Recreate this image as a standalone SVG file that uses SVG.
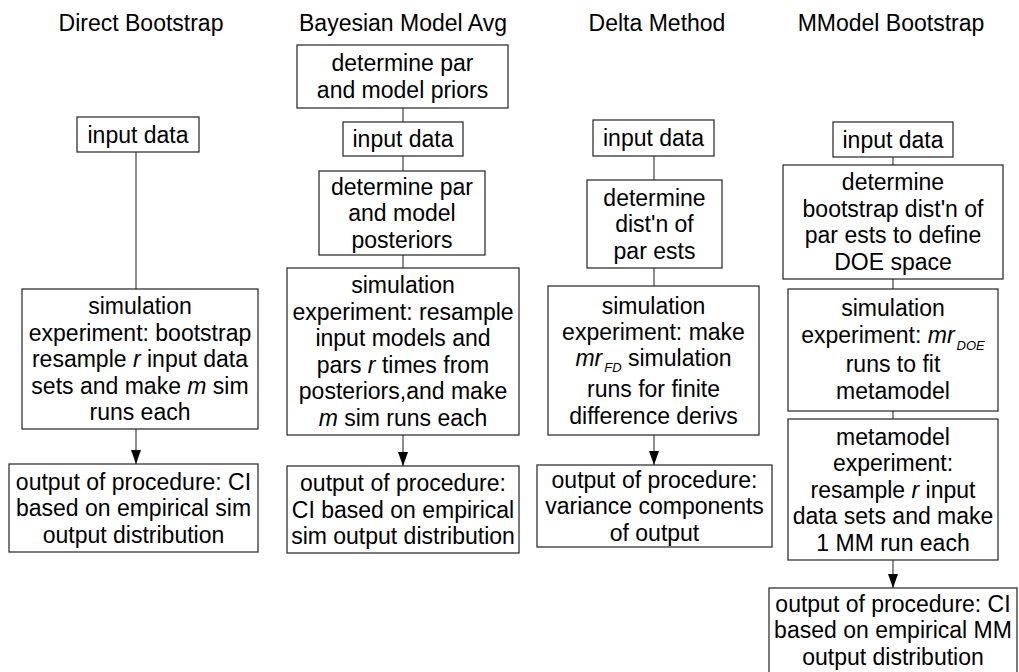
<svg xmlns="http://www.w3.org/2000/svg" width="1019" height="672" viewBox="0 0 1019 672">
<style>
  text { font-family: "Liberation Sans", Arial, sans-serif; font-size: 23px; fill: #000; text-anchor: middle; }
  .box { fill: #fff; stroke: #222; stroke-width: 1.2; }
  .conn { stroke: #444; stroke-width: 1.2; fill: none; }
  .it { font-style: italic; }
  .sub { font-style: italic; font-size: 13px; }
</style>
<defs>
  <marker id="arr" viewBox="0 0 14 10" refX="14" refY="5" markerWidth="14" markerHeight="10" markerUnits="userSpaceOnUse" orient="auto">
    <path d="M0,0 L14,5 L0,10 z" fill="#000"/>
  </marker>
</defs>
<rect width="1019" height="672" fill="#fff"/>

<g id="titles">
  <text x="141" y="31">Direct Bootstrap</text>
  <text x="403" y="31">Bayesian Model Avg</text>
  <text x="657" y="31">Delta Method</text>
  <text x="891" y="31">MModel Bootstrap</text>
</g>

<g id="connectors">
  <line class="conn" x1="136" y1="152" x2="136" y2="289"/>
  <line class="conn" x1="136" y1="429" x2="136" y2="464" marker-end="url(#arr)"/>
  <line class="conn" x1="403" y1="108" x2="403" y2="122"/>
  <line class="conn" x1="403" y1="156" x2="403" y2="171"/>
  <line class="conn" x1="403" y1="255" x2="403" y2="268"/>
  <line class="conn" x1="403" y1="435" x2="403" y2="466" marker-end="url(#arr)"/>
  <line class="conn" x1="654" y1="156" x2="654" y2="180"/>
  <line class="conn" x1="654" y1="268" x2="654" y2="286"/>
  <line class="conn" x1="654" y1="435" x2="654" y2="465" marker-end="url(#arr)"/>
  <line class="conn" x1="893" y1="157" x2="893" y2="165"/>
  <line class="conn" x1="893" y1="279" x2="893" y2="289"/>
  <line class="conn" x1="893" y1="411" x2="893" y2="419"/>
  <line class="conn" x1="893" y1="560" x2="893" y2="588" marker-end="url(#arr)"/>
</g>

<g id="db-input">
  <rect class="box" x="77" y="117" width="122" height="35"/>
  <text x="138" y="142.5">input data</text>
</g>
<g id="db-sim">
  <rect class="box" x="22" y="289" width="236" height="140"/>
  <text x="140" y="314">simulation</text>
  <text x="140" y="340.5">experiment: bootstrap</text>
  <text x="140" y="367">resample <tspan class="it">r</tspan> input data</text>
  <text x="140" y="393.5">sets and make <tspan class="it">m</tspan> sim</text>
  <text x="140" y="420">runs each</text>
</g>
<g id="db-output">
  <rect class="box" x="9" y="464" width="249" height="88"/>
  <text x="133.5" y="489.5">output of procedure: CI</text>
  <text x="133.5" y="516">based on empirical sim</text>
  <text x="133.5" y="542.5">output distribution</text>
</g>

<g id="bma-priors">
  <rect class="box" x="297" y="45" width="211" height="63"/>
  <text x="402.5" y="71.25">determine par</text>
  <text x="402.5" y="97.75">and model priors</text>
</g>
<g id="bma-input">
  <rect class="box" x="343" y="122" width="120" height="34"/>
  <text x="403" y="147">input data</text>
</g>
<g id="bma-posteriors">
  <rect class="box" x="319" y="171" width="166" height="84"/>
  <text x="402" y="194.5">determine par</text>
  <text x="402" y="221">and model</text>
  <text x="402" y="247.5">posteriors</text>
</g>
<g id="bma-sim">
  <rect class="box" x="287" y="268" width="232" height="167"/>
  <text x="403" y="293.25">simulation</text>
  <text x="403" y="319.75">experiment: resample</text>
  <text x="403" y="346.25">input models and</text>
  <text x="403" y="372.75">pars <tspan class="it">r</tspan> times from</text>
  <text x="403" y="399.25">posteriors,and make</text>
  <text x="403" y="425.75"><tspan class="it">m</tspan> sim runs each</text>
</g>
<g id="bma-output">
  <rect class="box" x="287" y="466" width="232" height="87"/>
  <text x="403" y="491">output of procedure:</text>
  <text x="403" y="517.5">CI based on empirical</text>
  <text x="403" y="544">sim output distribution</text>
</g>

<g id="dm-input">
  <rect class="box" x="593" y="120" width="121" height="36"/>
  <text x="653.5" y="146">input data</text>
</g>
<g id="dm-dist">
  <rect class="box" x="587" y="180" width="135" height="88"/>
  <text x="654.5" y="205.5">determine</text>
  <text x="654.5" y="232">dist'n of</text>
  <text x="654.5" y="258.5">par ests</text>
</g>
<g id="dm-sim">
  <rect class="box" x="548" y="286" width="211" height="149"/>
  <text x="653.5" y="314">simulation</text>
  <text x="653.5" y="340">experiment: make</text>
  <text x="653.5" y="366"><tspan class="it">mr</tspan><tspan class="sub" dx="2" dy="6">FD</tspan><tspan dy="-6"> simulation</tspan></text>
  <text x="653.5" y="397">runs for finite</text>
  <text x="653.5" y="424">difference derivs</text>
</g>
<g id="dm-output">
  <rect class="box" x="537" y="465" width="235" height="82"/>
  <text x="654.5" y="487.5">output of procedure:</text>
  <text x="654.5" y="514">variance components</text>
  <text x="654.5" y="540.5">of output</text>
</g>

<g id="mm-input">
  <rect class="box" x="833" y="122" width="120" height="35"/>
  <text x="893" y="147.5">input data</text>
</g>
<g id="mm-boot">
  <rect class="box" x="783" y="165" width="220" height="114"/>
  <text x="893" y="190.25">determine</text>
  <text x="893" y="216.75">bootstrap dist'n of</text>
  <text x="893" y="243.25">par ests to define</text>
  <text x="893" y="269.75">DOE space</text>
</g>
<g id="mm-sim">
  <rect class="box" x="788" y="289" width="210" height="122"/>
  <text x="893" y="316">simulation</text>
  <text x="893" y="343">experiment: <tspan class="it">mr</tspan><tspan class="sub" dx="2" dy="7">DOE</tspan></text>
  <text x="893" y="372">runs to fit</text>
  <text x="893" y="398.5">metamodel</text>
</g>
<g id="mm-meta">
  <rect class="box" x="788" y="419" width="210" height="141"/>
  <text x="893" y="444.5">metamodel</text>
  <text x="893" y="471">experiment:</text>
  <text x="893" y="497.5">resample <tspan class="it">r</tspan> input</text>
  <text x="893" y="524">data sets and make</text>
  <text x="893" y="550.5">1 MM run each</text>
</g>
<g id="mm-output">
  <rect class="box" x="769" y="588" width="248" height="88"/>
  <text x="893" y="611.5">output of procedure: CI</text>
  <text x="893" y="638">based on empirical MM</text>
  <text x="893" y="664.5">output distribution</text>
</g>
</svg>
